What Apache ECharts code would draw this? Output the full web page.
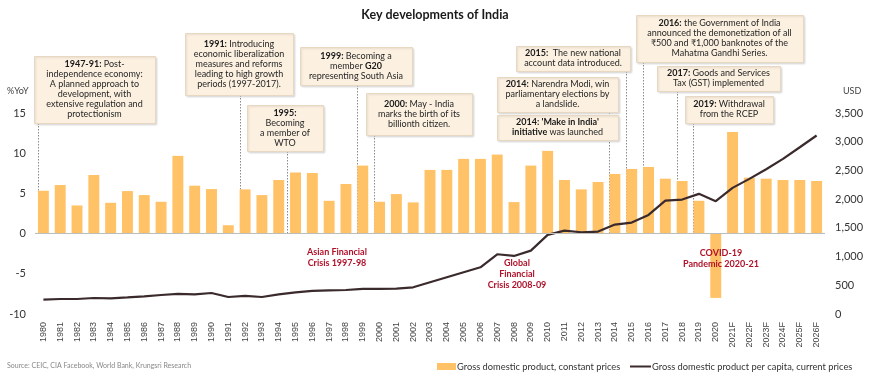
<!DOCTYPE html>
<html><head><meta charset="utf-8">
<script src="https://cdn.jsdelivr.net/npm/echarts@6/dist/echarts.min.js"></script>
<style>html,body{margin:0;padding:0;background:#fff}#c{width:870px;height:379px}</style>
</head><body><div id="c"></div>
<script>
const years = ['1980','1981','1982','1983','1984','1985','1986','1987','1988','1989',
  '1990','1991','1992','1993','1994','1995','1996','1997','1998','1999',
  '2000','2001','2002','2003','2004','2005','2006','2007','2008','2009',
  '2010','2011','2012','2013','2014','2015','2016','2017','2018','2019',
  '2020','2021F','2022F','2023F','2024F','2025F','2026F'];
const gdpGrowth = [5.33,6.04,3.5,7.29,3.83,5.29,4.79,3.96,9.67,5.96,
  5.54,1.04,5.5,4.79,6.67,7.6,7.54,4.08,6.17,8.46,
  3.96,4.92,3.88,7.92,7.92,9.29,9.29,9.83,3.92,8.46,
  10.29,6.67,5.5,6.42,7.42,8.04,8.29,6.83,6.54,4.08,
  -8.0,12.63,6.96,6.83,6.67,6.67,6.54];
const gdpPerCapita = [250,261,261,279,273,290,308,331,349,343,
  366,296,314,296,343,378,401,412,418,436,
  436,442,465,552,639,726,813,1040,1011,1104,
  1377,1452,1423,1435,1557,1592,1726,1975,1993,2092,
  1964,2196,2353,2521,2701,2904,3108];
const leftTicks = [-10,-5,0,5,10,15];
const rightTicks = [0,500,1000,1500,2000,2500,3000,3500];
const seriesNames = ['Gross domestic product, constant prices','Gross domestic product per capita, current prices'];

const FONT = 'Lato';
const legendText = {fontFamily: FONT, fontSize: 9.3, color: '#333', padding: [0,0,0,-4]};
const chart = echarts.init(document.getElementById('c'));
chart.setOption({
  animation: false,
  textStyle: {fontFamily: FONT},
  title: {text: 'Key developments of India', left: 'center', top: 3,
    textStyle: {fontFamily: FONT, fontSize: 12.5, fontWeight: 'bold', color: '#1a1a1a'}},
  grid: {left: 35, right: 45, top: 113, bottom: 65},
  legend: [
    {left: 432, top: 357, itemWidth: 19, itemHeight: 7, textStyle: legendText,
      data: [{name: seriesNames[0], icon: 'rect'}]},
    {left: 625, top: 357, itemWidth: 21, itemHeight: 2, textStyle: legendText,
      data: [{name: seriesNames[1], icon: 'rect'}]}
  ],
  xAxis: {type: 'category', data: years, axisLine: {show: false}, axisTick: {show: false},
    axisLabel: {rotate: 90, fontFamily: 'Liberation Sans', fontSize: 9, color: '#444', margin: 8, interval: 0}},
  yAxis: [
    {type: 'value', min: leftTicks[0], max: leftTicks[leftTicks.length-1], interval: 5,
      splitLine: {show: false}, axisLine: {show: false}, axisTick: {show: false},
      axisLabel: {fontFamily: FONT, fontSize: 11, color: '#333', margin: 9}},
    {type: 'value', min: rightTicks[0], max: rightTicks[rightTicks.length-1], interval: 500,
      splitLine: {show: false}, axisLine: {show: false}, axisTick: {show: false},
      axisLabel: {fontFamily: FONT, fontSize: 11, color: '#333', margin: 10,
        formatter: v => v.toLocaleString('en-US')}}
  ],
  series: [
    {name: seriesNames[0], type: 'bar', data: gdpGrowth, barWidth: '65%', yAxisIndex: 0,
      itemStyle: {color: '#FFC266'}, z: 2,
      markLine: {silent: true, symbol: 'none', label: {show: false},
        lineStyle: {color: '#bdbdbd', type: 'solid', width: 1}, data: [{yAxis: 0}]}},
    {name: seriesNames[1], type: 'line', data: gdpPerCapita, yAxisIndex: 1, symbol: 'none',
      lineStyle: {color: '#3a2a2c', width: 2.2}, itemStyle: {color: '#3a2a2c'}, z: 3}
  ]
});

// annotations
const boxes = [
  {x:34,y:56,w:121,h:67, cat:'1980', off:0, lines:['{b|1947-91:} Post-','independence economy:','A planned approach to','development, with','extensive regulation and','protectionism']},
  {x:185,y:33,w:108,h:62, cat:'1992', off:0, lines:['{b|1991:} Introducing','economic liberalization','measures and reforms','leading to high growth','periods (1997-2017).']},
  {x:247,y:105,w:76,h:46, cat:'1995', off:-3, lines:['{b|1995:}','Becoming','a member of','WTO']},
  {x:300,y:47,w:112,h:38, cat:'1999', off:0, lines:['{b|1999:} Becoming a','member {b|G20}','representing South Asia']},
  {x:366,y:93,w:106,h:42, cat:'2000', off:0, lines:['{b|2000:} May - India','marks the birth of its','billionth citizen.']},
  {x:516,y:46,w:114,h:25, cat:'2015', off:0, lines:['{b|2015:}  The new national','account data introduced.']},
  {x:497,y:77,w:121,h:35, cat:'2014', off:0, lines:['{b|2014:} Narendra Modi, win','parliamentary elections by','a landslide.']},
  {x:497,y:115,w:121,h:25, cat:null, lines:["{b|2014: 'Make in India'}","{b|initiative} was launched"]},
  {x:636,y:15,w:167,h:47, cat:'2016', off:0, lines:['{b|2016:} the Government of India','announced the demonetization of all','₹500 and ₹1,000 banknotes of the','Mahatma Gandhi Series.']},
  {x:657,y:66,w:123,h:25, cat:'2018', off:0, lines:['{b|2017:} Goods and Services','Tax (GST) implemented']},
  {x:685,y:96,w:88,h:27, cat:'2019', off:0, lines:['{b|2019:} Withdrawal','from the RCEP']}
];
const crises = [
  {x:337, y:247, lines:['Asian Financial','Crisis 1997-98']},
  {x:517, y:258, lines:['Global','Financial','Crisis 2008-09']},
  {x:721, y:248, lines:['COVID-19','Pandemic 2020-21']}
];

function build() {
  const g = [];
  const zeroY = chart.convertToPixel({yAxisIndex: 0}, 0);
  const band = chart.convertToPixel({xAxisIndex: 0}, years[1]) - chart.convertToPixel({xAxisIndex: 0}, years[0]);
  boxes.forEach(b => {
    if (b.cat) {
      const cx = chart.convertToPixel({xAxisIndex: 0}, b.cat) - band * 0.325 + b.off;
      g.push({type: 'line', z: 1, silent: true,
        shape: {x1: Math.round(cx)+0.5, y1: b.y + b.h, x2: Math.round(cx)+0.5, y2: zeroY},
        style: {stroke: '#8a8a8a', lineWidth: 1, lineDash: [1.5, 1.5]}});
    }
  });
  boxes.forEach(b => {
    g.push({type: 'rect', z: 10, silent: true,
      shape: {x: b.x + 0.5, y: b.y + 0.5, width: b.w, height: b.h},
      style: {fill: '#FCF1E1', stroke: '#E8D8C2', lineWidth: 1,
        shadowColor: 'rgba(0,0,0,0.12)', shadowBlur: 2, shadowOffsetX: 1, shadowOffsetY: 1}});
    g.push({type: 'text', z: 11, silent: true,
      x: b.x + b.w / 2, y: b.y + b.h / 2,
      style: {text: b.lines.join('\n'), align: 'center', verticalAlign: 'middle',
        fontFamily: FONT, fontSize: 9, lineHeight: 10, fill: '#262626',
        rich: {b: {fontFamily: FONT, fontSize: 9, fontWeight: 'bold', lineHeight: 10, fill: '#1a1a1a'}}}});
  });
  crises.forEach(c => {
    g.push({type: 'text', z: 12, silent: true, x: c.x, y: c.y,
      style: {text: c.lines.join('\n'), align: 'center', verticalAlign: 'top',
        fontFamily: FONT, fontSize: 9, fontWeight: 'bold', lineHeight: 11, fill: '#B0122A'}});
  });
  g.push({type: 'text', silent: true, x: 7, y: 87,
    style: {text: '%YoY', fontFamily: FONT, fontSize: 9, fill: '#444'}});
  g.push({type: 'text', silent: true, x: 843, y: 87,
    style: {text: 'USD', fontFamily: FONT, fontSize: 9, fill: '#444'}});
  g.push({type: 'text', silent: true, x: 7, y: 362,
    style: {text: 'Source: CEIC, CIA Facebook, World Bank, Krungsri Research', fontFamily: FONT, fontSize: 7, fill: '#888'}});
  chart.setOption({graphic: g});
}
build();
</script></body></html>
